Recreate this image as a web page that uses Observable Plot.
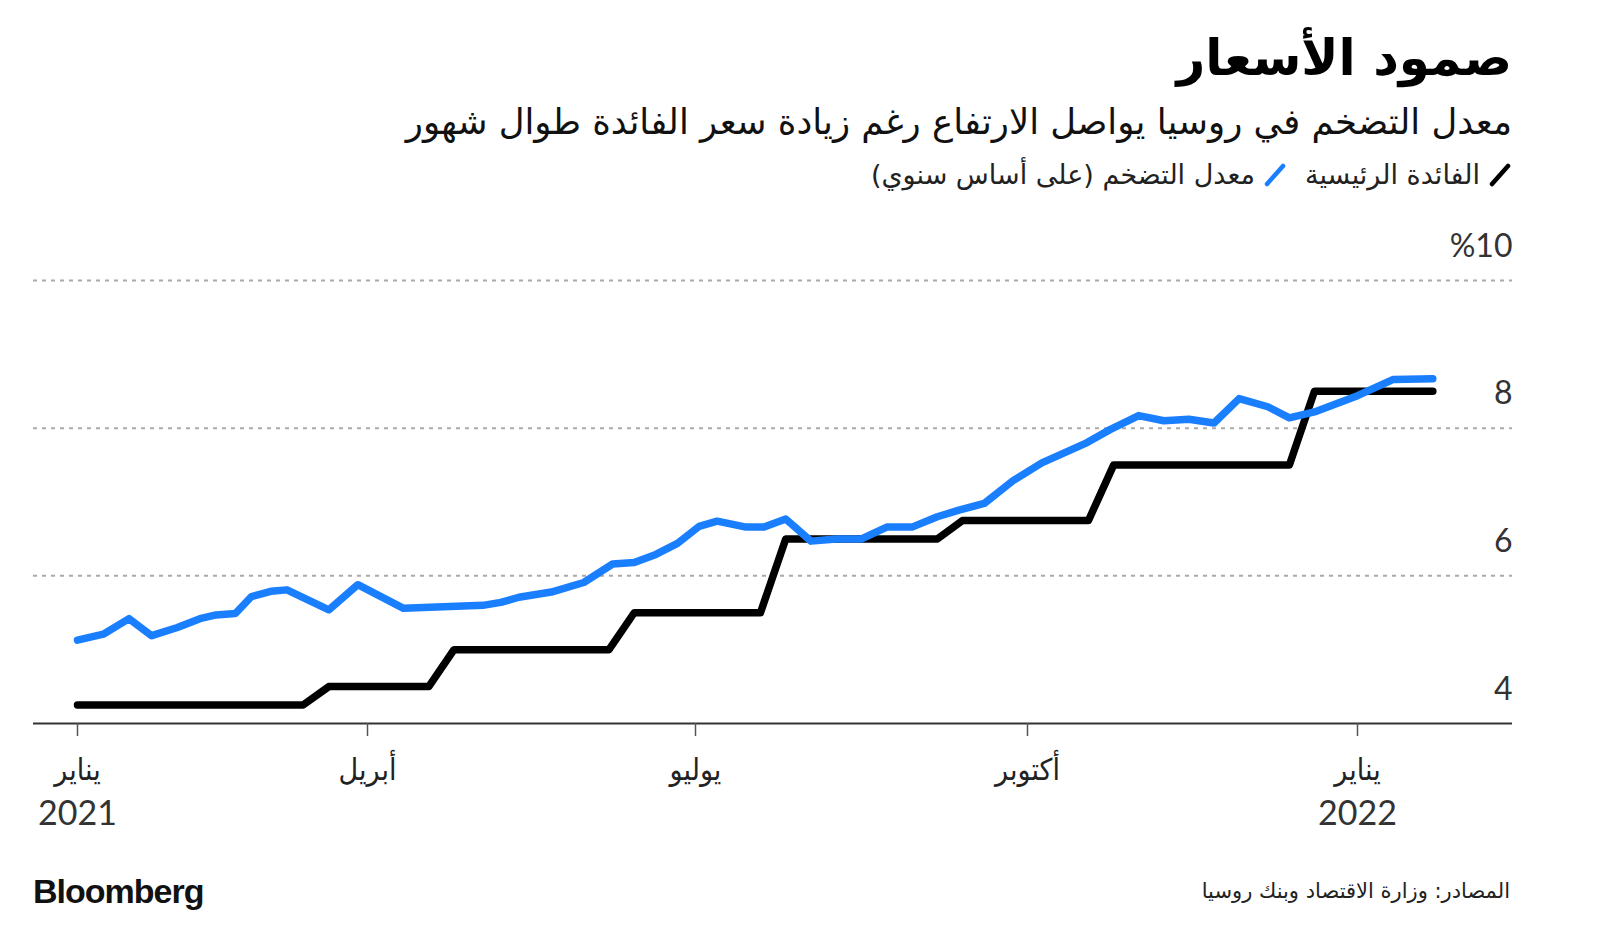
<!DOCTYPE html>
<html lang="ar">
<head>
<meta charset="utf-8">
<script src="https://cdn.jsdelivr.net/npm/d3@7"></script>
<script src="https://cdn.jsdelivr.net/npm/@observablehq/plot@0.6"></script>
<style>
  html, body { margin: 0; padding: 0; background: #fff; }
  body { width: 1600px; height: 944px; position: relative; overflow: hidden; font-family: "DejaVu Sans", sans-serif; }
  .ar { direction: rtl; position: absolute; right: 88px; text-align: right; white-space: nowrap; }
  #title { top: 26px; font-size: 50px; font-weight: bold; color: #000; line-height: 64px; }
  #subtitle { top: 100px; font-size: 35.5px; color: #111; line-height: 44px; }
  #legend { top: 158px; font-size: 27px; color: #222; display: flex; align-items: center; gap: 8px; line-height: 34px; }
  #legend .item { display: flex; align-items: center; gap: 8px; }
  #legend .item + .item { margin-right: 10px; }
  #chart { position: absolute; left: 0; top: 220px; }
  #logo { position: absolute; left: 33px; top: 872px; font-family: "Liberation Sans", Arial, sans-serif; font-weight: bold; font-size: 34px; letter-spacing: -1px; color: #111; }
  #source { top: 879px; font-size: 21px; color: #222; right: 90px; }
</style>
</head>
<body>
<div id="title" class="ar">صمود الأسعار</div>
<div id="subtitle" class="ar">معدل التضخم في روسيا يواصل الارتفاع رغم زيادة سعر الفائدة طوال شهور</div>
<div id="legend" class="ar"></div>
<div id="chart"></div>
<div id="logo">Bloomberg</div>
<div id="source" class="ar">المصادر: وزارة الاقتصاد وبنك روسيا</div>
<script>
// ---- Data ----
const seriesNames = ["الفائدة الرئيسية", "معدل التضخم (على أساس سنوي)"];
const seriesColors = ["#000000", "#1a7fff"];

const keyRateDates = ["2021-01-01","2021-03-12","2021-03-20","2021-04-18","2021-04-25","2021-06-07","2021-06-14","2021-07-19","2021-07-26","2021-09-06","2021-09-13","2021-10-18","2021-10-25","2021-12-13","2021-12-20","2022-01-22"];
const keyRateValues = [4.25,4.25,4.5,4.5,5,5,5.5,5.5,6.5,6.5,6.75,6.75,7.5,7.5,8.5,8.5];

const inflationDates = ["2021-01-01","2021-01-09","2021-01-17","2021-01-24","2021-02-01","2021-02-08","2021-02-13","2021-02-19","2021-02-24","2021-03-02","2021-03-07","2021-03-20","2021-03-29","2021-04-11","2021-05-03","2021-05-08","2021-05-13","2021-05-22","2021-05-31","2021-06-08","2021-06-14","2021-06-20","2021-06-26","2021-07-02","2021-07-07","2021-07-15","2021-07-20","2021-07-26","2021-08-02","2021-08-09","2021-08-16","2021-08-23","2021-08-30","2021-09-06","2021-09-12","2021-09-19","2021-09-27","2021-10-05","2021-10-17","2021-10-24","2021-11-01","2021-11-08","2021-11-15","2021-11-22","2021-11-29","2021-12-07","2021-12-13","2021-12-20","2022-01-01","2022-01-11","2022-01-22"];
const inflationValues = [5.13,5.21,5.42,5.19,5.30,5.42,5.47,5.49,5.72,5.79,5.81,5.54,5.88,5.56,5.60,5.64,5.71,5.78,5.91,6.16,6.18,6.29,6.44,6.67,6.74,6.66,6.66,6.77,6.47,6.50,6.50,6.66,6.66,6.80,6.89,6.98,7.29,7.53,7.79,7.98,8.17,8.10,8.12,8.07,8.40,8.29,8.14,8.22,8.44,8.66,8.67];

const xTickDates = ["2021-01-01","2021-04-01","2021-07-01","2021-10-01","2022-01-01"];
const xTickLabels = ["يناير","أبريل","يوليو","أكتوبر","يناير"];
const yearTickDates = ["2021-01-01","2022-01-01"];
const yearTickLabels = ["2021","2022"];
const yTickValues = [10, 8, 6, 4];
const yTickLabels = ["%10", "8", "6", "4"];
const gridValues = [10, 8, 6];

// ---- Legend ----
const legend = document.getElementById("legend");
seriesNames.forEach((name, i) => {
  const item = document.createElement("span");
  item.className = "item";
  item.innerHTML = `<svg width="24" height="24" viewBox="0 0 24 24"><line x1="4" y1="21" x2="20" y2="3" stroke="${seriesColors[i]}" stroke-width="4.5" stroke-linecap="round"/></svg><span>${name}</span>`;
  legend.appendChild(item);
});

// ---- Chart ----
const parse = d3.utcParse("%Y-%m-%d");
const keyRate = keyRateDates.map((d, i) => ({date: parse(d), value: keyRateValues[i]}));
const inflation = inflationDates.map((d, i) => ({date: parse(d), value: inflationValues[i]}));
const monthMap = new Map(xTickDates.map((d, i) => [+parse(d), xTickLabels[i]]));
const yearMap = new Map(yearTickDates.map((d, i) => [+parse(d), yearTickLabels[i]]));
const yLabelMap = new Map(yTickValues.map((v, i) => [v, yTickLabels[i]]));

const chart = Plot.plot({
  width: 1600,
  height: 620,
  marginLeft: 33,
  marginRight: 88,
  marginTop: 60,
  marginBottom: 117,
  style: {background: "transparent", overflow: "visible", fontFamily: "Lato, 'DejaVu Sans', sans-serif"},
  x: {type: "utc", domain: xTickDates.map(parse), range: [77, 367, 695, 1027, 1357]},
  y: {domain: [4, 10], axis: null},
  marks: [
    Plot.ruleY(gridValues, {stroke: "#aaaaaa", strokeWidth: 2, strokeDasharray: "4,5"}),
    Plot.ruleY([4], {stroke: "#333", strokeWidth: 2}),
    Plot.axisX({
      ticks: xTickDates.map(parse),
      tickFormat: d => monthMap.get(+d),
      tickSize: 13, tickPadding: 22,
      stroke: "#555", strokeWidth: 1.5,
      fill: "#222", fontSize: 30,
      fontFamily: "'DejaVu Sans Condensed', 'DejaVu Sans', sans-serif",
      label: null
    }),
    Plot.axisX({
      ticks: yearTickDates.map(parse),
      tickFormat: d => yearMap.get(+d),
      tickSize: 0, tickPadding: 77,
      fill: "#333", fontSize: 34,
      fontFamily: "Lato, sans-serif",
      label: null
    }),
    Plot.text(yTickValues, {
      y: d => d, text: d => yLabelMap.get(d),
      frameAnchor: "right", textAnchor: "end", dy: -34,
      fontSize: 32, fill: "#333", fontFamily: "Lato, sans-serif"
    }),
    Plot.line(keyRate, {x: "date", y: "value", stroke: seriesColors[0], strokeWidth: 7.5, strokeLinecap: "round", strokeLinejoin: "round"}),
    Plot.line(inflation, {x: "date", y: "value", stroke: seriesColors[1], strokeWidth: 7.5, strokeLinecap: "round", strokeLinejoin: "round"})
  ]
});
document.getElementById("chart").appendChild(chart);
</script>
</body>
</html>
